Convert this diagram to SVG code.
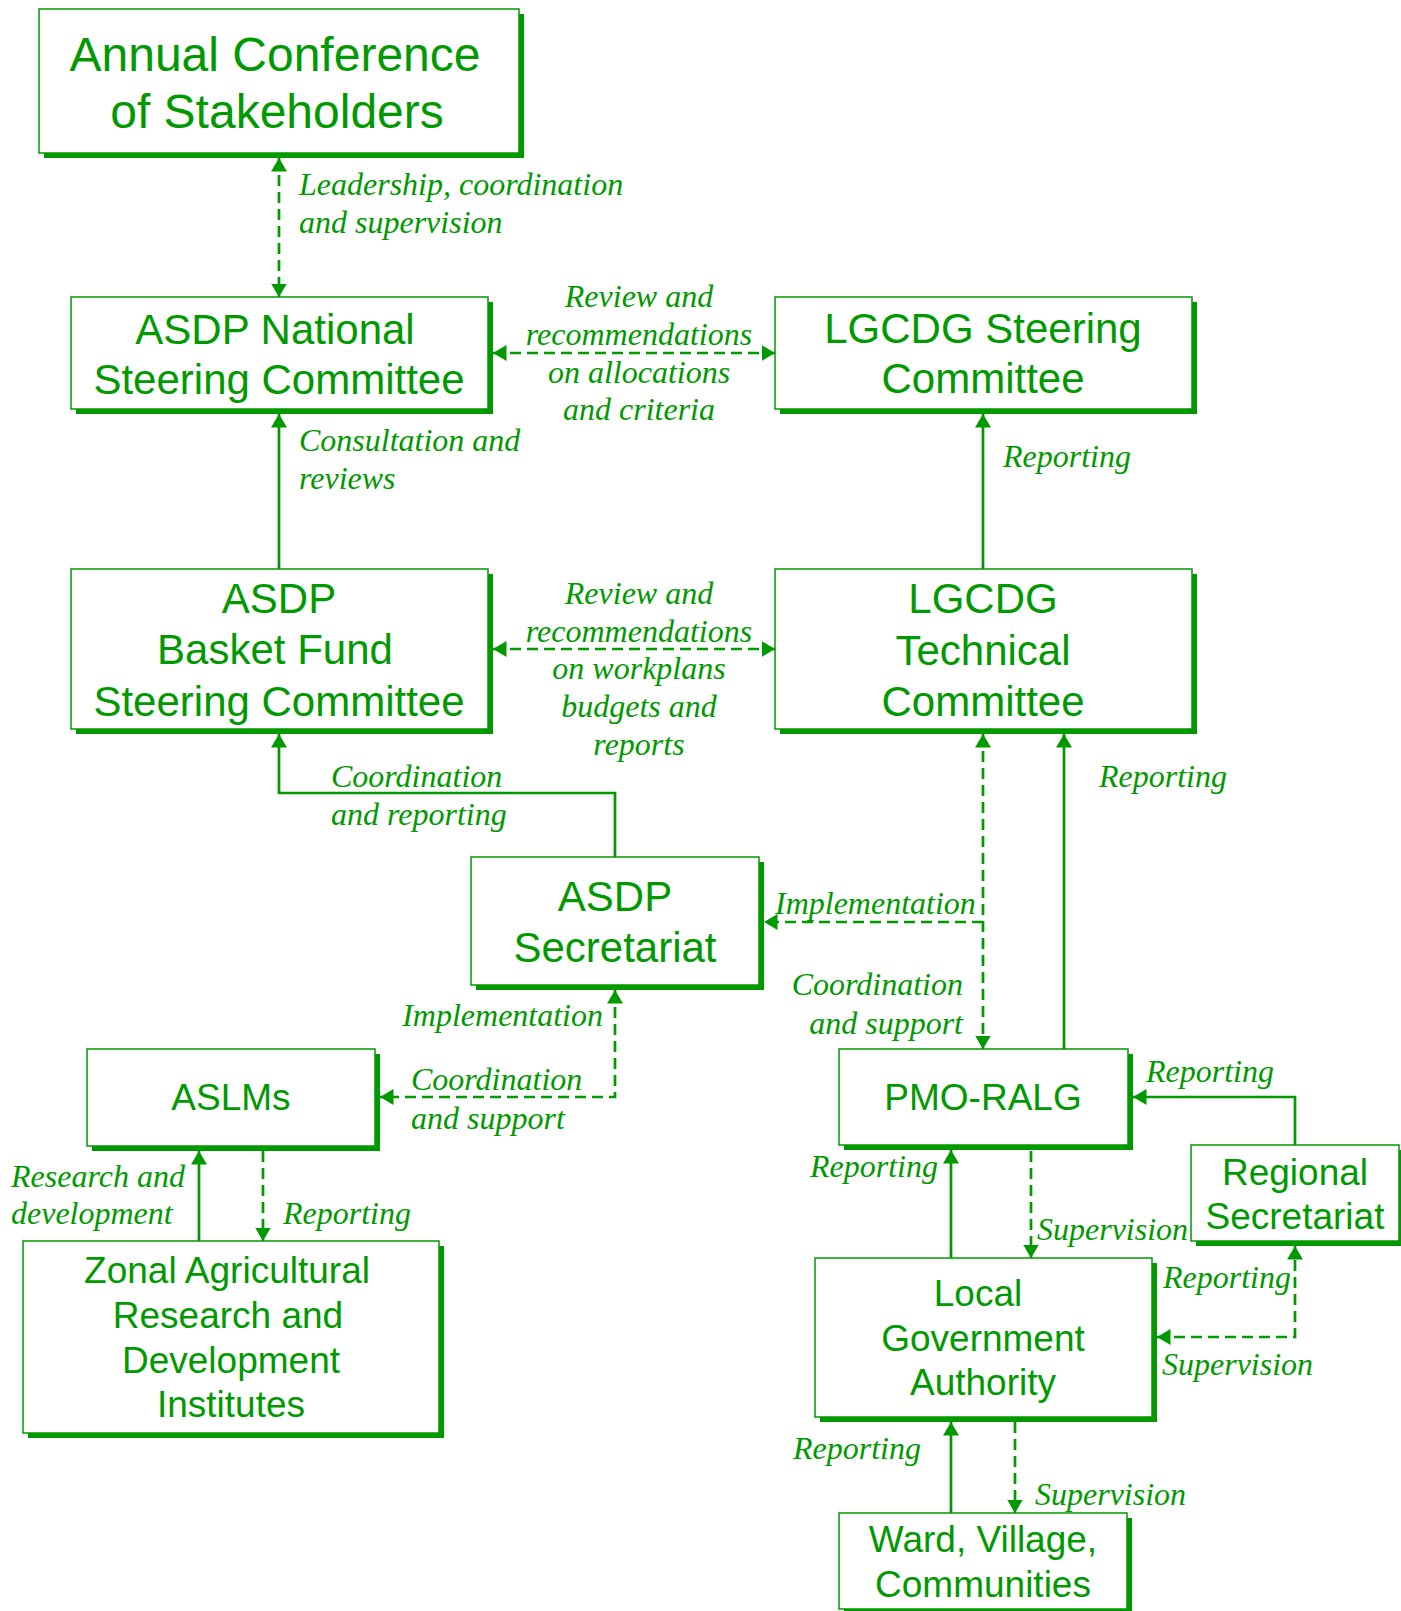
<svg xmlns="http://www.w3.org/2000/svg" width="1401" height="1611" viewBox="0 0 1401 1611">
<defs>
<style>
.sh{fill:#009900;stroke:none}
.bx{fill:#ffffff;stroke:#009900;stroke-width:1.5}
.nt{font-family:"Liberation Sans",Arial,sans-serif;fill:#009900;text-anchor:middle}
.f48{font-size:48px}.f42{font-size:42px}.f37{font-size:37px}
.lb{font-family:"Liberation Serif","Times New Roman",serif;font-style:italic;font-size:32px;fill:#009900}
.c{fill:none;stroke:#009900;stroke-width:2.7}
.d{stroke-dasharray:11 6}
.s{marker-start:url(#ah)}
.e{marker-end:url(#ah)}
</style>
<marker id="ah" markerUnits="userSpaceOnUse" markerWidth="14" markerHeight="17" refX="13.5" refY="8" orient="auto-start-reverse" viewBox="0 0 14 17">
<path d="M0,0 L13.5,8 L0,16 z" fill="#009900"/>
</marker>
</defs>
<rect width="1401" height="1611" fill="#ffffff"/>

<g id="annual">
<rect class="sh" x="44" y="14" width="480" height="144"/>
<rect class="bx" x="39" y="9" width="480" height="144"/>
<text class="nt f48" x="275" y="71">Annual Conference</text>
<text class="nt f48" x="277" y="128">of Stakeholders</text>
</g>

<g id="asdp-national">
<rect class="sh" x="76" y="302" width="417" height="112"/>
<rect class="bx" x="71" y="297" width="417" height="112"/>
<text class="nt f42" x="275" y="344">ASDP National</text>
<text class="nt f42" x="279" y="394">Steering Committee</text>
</g>

<g id="lgcdg-steering">
<rect class="sh" x="780" y="302" width="417" height="112"/>
<rect class="bx" x="775" y="297" width="417" height="112"/>
<text class="nt f42" x="983" y="343">LGCDG Steering</text>
<text class="nt f42" x="983" y="393">Committee</text>
</g>

<g id="asdp-basket">
<rect class="sh" x="76" y="574" width="417" height="160"/>
<rect class="bx" x="71" y="569" width="417" height="160"/>
<text class="nt f42" x="279" y="613">ASDP</text>
<text class="nt f42" x="275" y="664">Basket Fund</text>
<text class="nt f42" x="279" y="716">Steering Committee</text>
</g>

<g id="lgcdg-technical">
<rect class="sh" x="780" y="574" width="417" height="160"/>
<rect class="bx" x="775" y="569" width="417" height="160"/>
<text class="nt f42" x="983" y="613">LGCDG</text>
<text class="nt f42" x="983" y="665">Technical</text>
<text class="nt f42" x="983" y="716">Committee</text>
</g>

<g id="asdp-secretariat">
<rect class="sh" x="476" y="862" width="288" height="128"/>
<rect class="bx" x="471" y="857" width="288" height="128"/>
<text class="nt f42" x="615" y="911">ASDP</text>
<text class="nt f42" x="615" y="962">Secretariat</text>
</g>

<g id="aslms">
<rect class="sh" x="92" y="1054" width="288" height="97"/>
<rect class="bx" x="87" y="1049" width="288" height="97"/>
<text class="nt f37" x="231" y="1110">ASLMs</text>
</g>

<g id="zardi">
<rect class="sh" x="28" y="1246" width="416" height="192"/>
<rect class="bx" x="23" y="1241" width="416" height="192"/>
<text class="nt f37" x="227" y="1283">Zonal Agricultural</text>
<text class="nt f37" x="228" y="1328">Research and</text>
<text class="nt f37" x="231" y="1373">Development</text>
<text class="nt f37" x="231" y="1417">Institutes</text>
</g>

<g id="pmo-ralg">
<rect class="sh" x="844" y="1054" width="289" height="96"/>
<rect class="bx" x="839" y="1049" width="289" height="96"/>
<text class="nt f37" x="983" y="1110">PMO-RALG</text>
</g>

<g id="regional-secretariat">
<rect class="sh" x="1196" y="1150" width="208" height="96"/>
<rect class="bx" x="1191" y="1145" width="208" height="96"/>
<text class="nt f37" x="1295" y="1185">Regional</text>
<text class="nt f37" x="1295" y="1229">Secretariat</text>
</g>

<g id="lga">
<rect class="sh" x="820" y="1263" width="337" height="159"/>
<rect class="bx" x="815" y="1258" width="337" height="159"/>
<text class="nt f37" x="978" y="1306">Local</text>
<text class="nt f37" x="983" y="1351">Government</text>
<text class="nt f37" x="983" y="1395">Authority</text>
</g>

<g id="ward">
<rect class="sh" x="844" y="1518" width="288" height="96"/>
<rect class="bx" x="839" y="1513" width="288" height="96"/>
<text class="nt f37" x="983" y="1552">Ward, Village,</text>
<text class="nt f37" x="983" y="1597">Communities</text>
</g>

<g id="connectors">
<path class="c d s e" d="M279,158 V297"/>
<path class="c d s e" d="M493,353 H775"/>
<path class="c e" d="M279,569 V414"/>
<path class="c e" d="M983,569 V414"/>
<path class="c d s e" d="M493,649 H775"/>
<path class="c e" d="M615,857 V793 H279 V734"/>
<path class="c d s e" d="M983,734 V1049"/>
<path class="c d e" d="M983,922 H764"/>
<path class="c e" d="M1064,1049 V734"/>
<path class="c d s e" d="M615,990 V1097 H380"/>
<path class="c e" d="M199,1241 V1151"/>
<path class="c d e" d="M263,1151 V1241"/>
<path class="c e" d="M1295,1145 V1097 H1133"/>
<path class="c e" d="M951,1258 V1150"/>
<path class="c d e" d="M1031,1151 V1258"/>
<path class="c d s e" d="M1157,1337 H1295 V1246"/>
<path class="c e" d="M951,1513 V1422"/>
<path class="c d e" d="M1015,1422 V1513"/>
</g>

<g id="labels" transform="translate(0,1.5)">
<text class="lb" x="299" y="193">Leadership, coordination</text>
<text class="lb" x="299" y="231">and supervision</text>
<text class="lb" x="639" y="305" text-anchor="middle">Review and</text>
<text class="lb" x="639" y="343" text-anchor="middle">recommendations</text>
<text class="lb" x="639" y="381" text-anchor="middle">on allocations</text>
<text class="lb" x="639" y="418" text-anchor="middle">and criteria</text>
<text class="lb" x="299" y="449">Consultation and</text>
<text class="lb" x="299" y="487">reviews</text>
<text class="lb" x="1003" y="465">Reporting</text>
<text class="lb" x="639" y="602" text-anchor="middle">Review and</text>
<text class="lb" x="639" y="640" text-anchor="middle">recommendations</text>
<text class="lb" x="639" y="677" text-anchor="middle">on workplans</text>
<text class="lb" x="639" y="715" text-anchor="middle">budgets and</text>
<text class="lb" x="639" y="753" text-anchor="middle">reports</text>
<text class="lb" x="331" y="785">Coordination</text>
<text class="lb" x="331" y="823">and reporting</text>
<text class="lb" x="1099" y="785">Reporting</text>
<text class="lb" x="775" y="912">Implementation</text>
<text class="lb" x="963" y="993" text-anchor="end">Coordination</text>
<text class="lb" x="963" y="1032" text-anchor="end">and support</text>
<text class="lb" x="603" y="1024" text-anchor="end">Implementation</text>
<text class="lb" x="411" y="1088">Coordination</text>
<text class="lb" x="411" y="1127">and support</text>
<text class="lb" x="11" y="1185">Research and</text>
<text class="lb" x="11" y="1222">development</text>
<text class="lb" x="283" y="1222">Reporting</text>
<text class="lb" x="1146" y="1080">Reporting</text>
<text class="lb" x="938" y="1175" text-anchor="end">Reporting</text>
<text class="lb" x="1037" y="1238">Supervision</text>
<text class="lb" x="1163" y="1286">Reporting</text>
<text class="lb" x="1162" y="1373">Supervision</text>
<text class="lb" x="921" y="1457" text-anchor="end">Reporting</text>
<text class="lb" x="1035" y="1503">Supervision</text>
</g>
</svg>
